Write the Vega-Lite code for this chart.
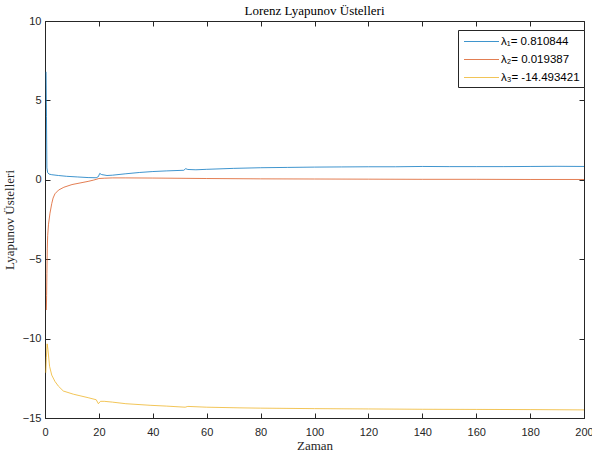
{
  "$schema": "https://vega.github.io/schema/vega-lite/v6.json",
  "width": 539,
  "height": 397,
  "autosize": {"type": "none"},
  "padding": {"left": 45, "top": 21, "right": 8, "bottom": 38},
  "background": "white",
  "title": {"text": "Lorenz Lyapunov Üstelleri", "font": "Liberation Serif", "fontSize": 13, "fontWeight": "normal", "color": "#000000", "offset": -3},
  "config": {
    "view": {"stroke": "#262626", "strokeWidth": 1},
    "axis": {"grid": false, "labelFlush": false, "labelOverlap": false, "domainColor": "#262626", "tickColor": "#262626", "labelColor": "#262626", "labelFont": "Liberation Sans", "labelFontSize": 11, "tickSize": -5, "titleFont": "Liberation Serif", "titleFontSize": 13, "titleFontWeight": "normal", "titleColor": "#262626"}
  },
  "data": {"values": [
    {"t": 0.4, "s": "λ₁= 0.810844", "v": 6.8},
    {"t": 0.55, "s": "λ₁= 0.810844", "v": 4.0},
    {"t": 0.7, "s": "λ₁= 0.810844", "v": 0.75},
    {"t": 1.0, "s": "λ₁= 0.810844", "v": 0.45},
    {"t": 1.5, "s": "λ₁= 0.810844", "v": 0.36},
    {"t": 2.5, "s": "λ₁= 0.810844", "v": 0.32},
    {"t": 5, "s": "λ₁= 0.810844", "v": 0.27},
    {"t": 8, "s": "λ₁= 0.810844", "v": 0.22},
    {"t": 12, "s": "λ₁= 0.810844", "v": 0.18},
    {"t": 16, "s": "λ₁= 0.810844", "v": 0.14},
    {"t": 19, "s": "λ₁= 0.810844", "v": 0.13},
    {"t": 19.8, "s": "λ₁= 0.810844", "v": 0.2},
    {"t": 20.3, "s": "λ₁= 0.810844", "v": 0.4},
    {"t": 21, "s": "λ₁= 0.810844", "v": 0.33},
    {"t": 23, "s": "λ₁= 0.810844", "v": 0.27},
    {"t": 25, "s": "λ₁= 0.810844", "v": 0.29},
    {"t": 30, "s": "λ₁= 0.810844", "v": 0.38},
    {"t": 35, "s": "λ₁= 0.810844", "v": 0.46},
    {"t": 40, "s": "λ₁= 0.810844", "v": 0.52},
    {"t": 45, "s": "λ₁= 0.810844", "v": 0.56},
    {"t": 51.5, "s": "λ₁= 0.810844", "v": 0.6},
    {"t": 52.2, "s": "λ₁= 0.810844", "v": 0.7},
    {"t": 53, "s": "λ₁= 0.810844", "v": 0.65},
    {"t": 56, "s": "λ₁= 0.810844", "v": 0.63},
    {"t": 60, "s": "λ₁= 0.810844", "v": 0.66},
    {"t": 70, "s": "λ₁= 0.810844", "v": 0.72},
    {"t": 80, "s": "λ₁= 0.810844", "v": 0.76},
    {"t": 90, "s": "λ₁= 0.810844", "v": 0.78},
    {"t": 100, "s": "λ₁= 0.810844", "v": 0.8},
    {"t": 110, "s": "λ₁= 0.810844", "v": 0.81},
    {"t": 120, "s": "λ₁= 0.810844", "v": 0.82},
    {"t": 130, "s": "λ₁= 0.810844", "v": 0.82},
    {"t": 140, "s": "λ₁= 0.810844", "v": 0.84},
    {"t": 150, "s": "λ₁= 0.810844", "v": 0.83},
    {"t": 160, "s": "λ₁= 0.810844", "v": 0.83},
    {"t": 170, "s": "λ₁= 0.810844", "v": 0.83},
    {"t": 180, "s": "λ₁= 0.810844", "v": 0.84},
    {"t": 190, "s": "λ₁= 0.810844", "v": 0.85},
    {"t": 200, "s": "λ₁= 0.810844", "v": 0.84},

    {"t": 0.5, "s": "λ₂= 0.019387", "v": -8.2},
    {"t": 0.6, "s": "λ₂= 0.019387", "v": -7.3},
    {"t": 0.7, "s": "λ₂= 0.019387", "v": -5.9},
    {"t": 0.85, "s": "λ₂= 0.019387", "v": -4.3},
    {"t": 1.0, "s": "λ₂= 0.019387", "v": -3.5},
    {"t": 1.3, "s": "λ₂= 0.019387", "v": -2.8},
    {"t": 1.85, "s": "λ₂= 0.019387", "v": -2.1},
    {"t": 2.5, "s": "λ₂= 0.019387", "v": -1.5},
    {"t": 3.0, "s": "λ₂= 0.019387", "v": -1.15},
    {"t": 3.7, "s": "λ₂= 0.019387", "v": -0.88},
    {"t": 5, "s": "λ₂= 0.019387", "v": -0.65},
    {"t": 7, "s": "λ₂= 0.019387", "v": -0.47},
    {"t": 10, "s": "λ₂= 0.019387", "v": -0.3},
    {"t": 13, "s": "λ₂= 0.019387", "v": -0.2},
    {"t": 16, "s": "λ₂= 0.019387", "v": -0.1},
    {"t": 18, "s": "λ₂= 0.019387", "v": -0.02},
    {"t": 20, "s": "λ₂= 0.019387", "v": 0.08},
    {"t": 22, "s": "λ₂= 0.019387", "v": 0.1},
    {"t": 25, "s": "λ₂= 0.019387", "v": 0.12},
    {"t": 30, "s": "λ₂= 0.019387", "v": 0.12},
    {"t": 40, "s": "λ₂= 0.019387", "v": 0.11},
    {"t": 60, "s": "λ₂= 0.019387", "v": 0.08},
    {"t": 80, "s": "λ₂= 0.019387", "v": 0.06},
    {"t": 100, "s": "λ₂= 0.019387", "v": 0.05},
    {"t": 120, "s": "λ₂= 0.019387", "v": 0.04},
    {"t": 140, "s": "λ₂= 0.019387", "v": 0.03},
    {"t": 160, "s": "λ₂= 0.019387", "v": 0.03},
    {"t": 180, "s": "λ₂= 0.019387", "v": 0.02},
    {"t": 200, "s": "λ₂= 0.019387", "v": 0.02},

    {"t": 0.3, "s": "λ₃= -14.493421", "v": -12.15},
    {"t": 0.5, "s": "λ₃= -14.493421", "v": -11.2},
    {"t": 0.8, "s": "λ₃= -14.493421", "v": -10.33},
    {"t": 1.1, "s": "λ₃= -14.493421", "v": -10.7},
    {"t": 1.7, "s": "λ₃= -14.493421", "v": -11.75},
    {"t": 2.5, "s": "λ₃= -14.493421", "v": -12.3},
    {"t": 3.7, "s": "λ₃= -14.493421", "v": -12.7},
    {"t": 5, "s": "λ₃= -14.493421", "v": -13.0},
    {"t": 6.8, "s": "λ₃= -14.493421", "v": -13.3},
    {"t": 10.5, "s": "λ₃= -14.493421", "v": -13.5},
    {"t": 13, "s": "λ₃= -14.493421", "v": -13.6},
    {"t": 16, "s": "λ₃= -14.493421", "v": -13.72},
    {"t": 19, "s": "λ₃= -14.493421", "v": -13.85},
    {"t": 19.8, "s": "λ₃= -14.493421", "v": -14.1},
    {"t": 20.6, "s": "λ₃= -14.493421", "v": -13.95},
    {"t": 22, "s": "λ₃= -14.493421", "v": -13.95},
    {"t": 25, "s": "λ₃= -14.493421", "v": -14.0},
    {"t": 30, "s": "λ₃= -14.493421", "v": -14.1},
    {"t": 39, "s": "λ₃= -14.493421", "v": -14.2},
    {"t": 45, "s": "λ₃= -14.493421", "v": -14.25},
    {"t": 52, "s": "λ₃= -14.493421", "v": -14.32},
    {"t": 53, "s": "λ₃= -14.493421", "v": -14.27},
    {"t": 60, "s": "λ₃= -14.493421", "v": -14.32},
    {"t": 72, "s": "λ₃= -14.493421", "v": -14.36},
    {"t": 80, "s": "λ₃= -14.493421", "v": -14.38},
    {"t": 100, "s": "λ₃= -14.493421", "v": -14.41},
    {"t": 120, "s": "λ₃= -14.493421", "v": -14.43},
    {"t": 140, "s": "λ₃= -14.493421", "v": -14.45},
    {"t": 160, "s": "λ₃= -14.493421", "v": -14.46},
    {"t": 180, "s": "λ₃= -14.493421", "v": -14.47},
    {"t": 200, "s": "λ₃= -14.493421", "v": -14.49}
  ]},
  "resolve": {"axis": {"x": "independent", "y": "independent"}},
  "layer": [
    {
      "mark": {"type": "line", "strokeWidth": 1, "opacity": 0.75, "clip": true},
      "encoding": {
        "x": {"field": "t", "type": "quantitative", "scale": {"domain": [0, 200], "nice": false}, "axis": {"title": "Zaman", "values": [0,20,40,60,80,100,120,140,160,180,200], "titlePadding": 2, "labelPadding": 13}},
        "y": {"field": "v", "type": "quantitative", "scale": {"domain": [-15, 10], "nice": false}, "axis": {"title": "Lyapunov Üstelleri", "values": [-15,-10,-5,0,5,10], "titlePadding": 6, "labelPadding": 9}},
        "color": {"field": "s", "type": "nominal", "sort": null,
          "scale": {"range": ["#0072BD", "#D95319", "#EDB120"]},
          "legend": {"title": null, "orient": "none", "legendX": 413, "legendY": 9, "symbolType": "M-2.5,0H2.5", "symbolSize": 196, "symbolStrokeWidth": 1, "symbolOffset": 12, "labelFont": "Liberation Sans", "labelFontSize": 11.5, "labelColor": "#000000", "strokeColor": "#262626", "fillColor": "white", "padding": 4, "rowPadding": 5, "labelOffset": 12}}
      }
    },
    {
      "mark": {"type": "line", "opacity": 0},
      "encoding": {
        "x": {"field": "t", "type": "quantitative", "axis": {"orient": "top", "labels": false, "title": null, "domain": false, "values": [0,20,40,60,80,100,120,140,160,180,200]}},
        "y": {"field": "v", "type": "quantitative", "axis": {"orient": "right", "labels": false, "title": null, "domain": false, "values": [-15,-10,-5,0,5,10]}}
      }
    }
  ]
}
